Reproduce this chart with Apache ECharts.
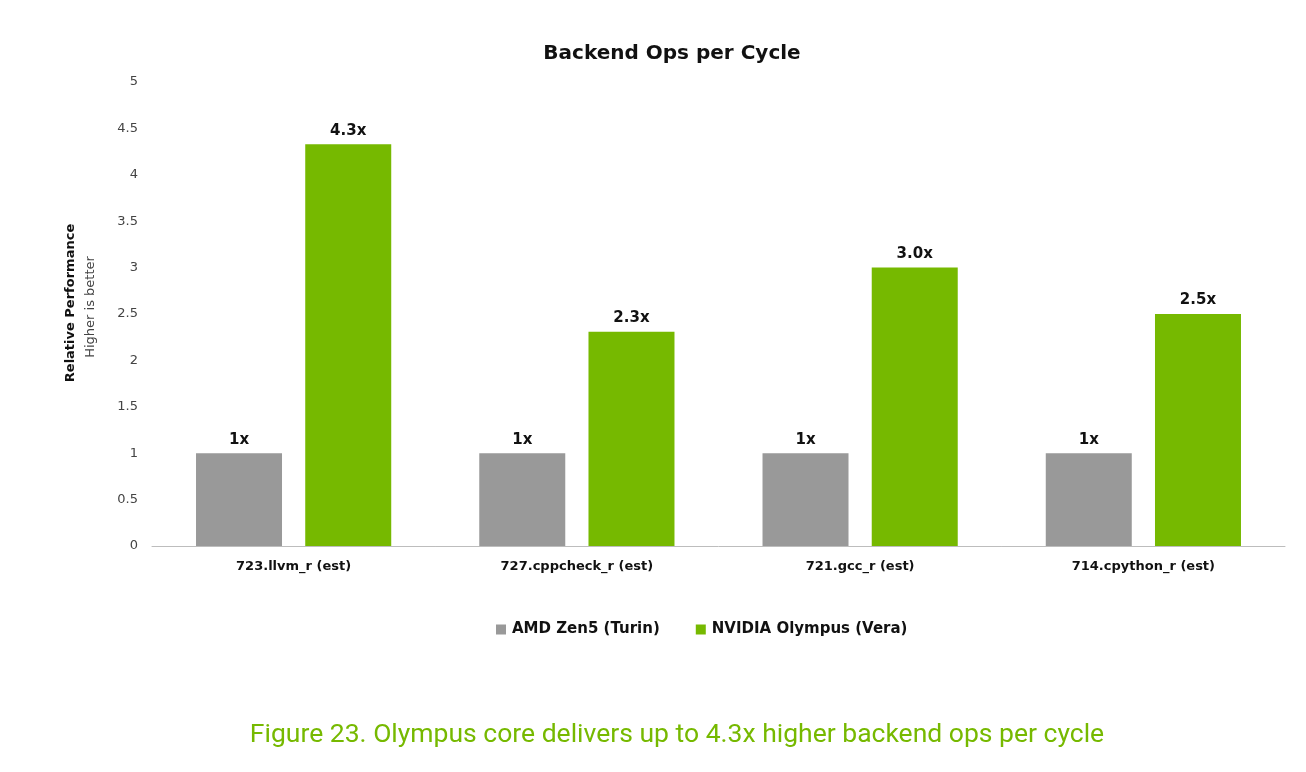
<!DOCTYPE html>
<html>
<head>
<meta charset="utf-8">
<script src="https://cdn.jsdelivr.net/npm/echarts@6/dist/echarts.min.js"></script>
<style>
html,body{margin:0;padding:0;background:#fff;}
#c{width:1306px;height:772px;}
</style>
</head>
<body>
<div id="c"></div>
<script>
const categories = ['723.llvm_r (est)', '727.cppcheck_r (est)', '721.gcc_r (est)', '714.cpython_r (est)'];
const seriesNames = ['AMD Zen5 (Turin)', 'NVIDIA Olympus (Vera)'];
const amdValues = [1, 1, 1, 1];
const nvidiaValues = [4.33, 2.31, 3.0, 2.5];
const amdLabels = ['1x', '1x', '1x', '1x'];
const nvidiaLabels = ['4.3x', '2.3x', '3.0x', '2.5x'];
const yTicks = [0, 0.5, 1, 1.5, 2, 2.5, 3, 3.5, 4, 4.5, 5];
const titleText = 'Backend Ops per Cycle';
const captionText = 'Figure 23. Olympus core delivers up to 4.3x higher backend ops per cycle';
const yNameBold = 'Relative Performance';
const yNameNormal = 'Higher is better';

const FONT = '"DejaVu Sans", sans-serif';
const chart = echarts.init(document.getElementById('c'));
chart.setOption({
  backgroundColor: '#ffffff',
  animation: false,
  title: [{
    text: titleText,
    left: 667, top: 39, textAlign: 'center',
    textStyle: { fontFamily: FONT, fontSize: 20, fontWeight: 'bold', color: '#111' }
  }, {
    text: captionText,
    left: 672, top: 717, textAlign: 'center',
    textStyle: { fontFamily: 'Roboto, sans-serif', fontSize: 26.5, fontWeight: 'normal', color: '#76b900' }
  }],
  legend: {
    data: seriesNames,
    left: 491, top: 617,
    itemWidth: 10, itemHeight: 10, itemGap: 36,
    icon: 'rect',
    textStyle: { fontFamily: FONT, fontSize: 15, fontWeight: 'bold', color: '#111', padding: [0, 0, 0, 1] }
  },
  graphic: [{
    type: 'text', x: 71, y: 303, rotation: Math.PI / 2,
    style: { text: yNameBold, fontFamily: FONT, fontSize: 13, fontWeight: 'bold', fill: '#111',
      textAlign: 'center', textVerticalAlign: 'middle' }
  }, {
    type: 'text', x: 91, y: 307, rotation: Math.PI / 2,
    style: { text: yNameNormal, fontFamily: FONT, fontSize: 13, fill: '#444',
      textAlign: 'center', textVerticalAlign: 'middle' }
  }],
  grid: { left: 152, right: 21, top: 82, bottom: 226 },
  xAxis: {
    type: 'category',
    data: categories,
    axisLine: { lineStyle: { color: '#bdbdbd', width: 1 } },
    axisTick: { show: false },
    axisLabel: { fontFamily: FONT, fontSize: 13, fontWeight: 'bold', color: '#111', margin: 14 }
  },
  yAxis: {
    type: 'value',
    min: 0, max: 5, interval: 0.5,
    splitLine: { show: false },
    axisLine: { show: false },
    axisTick: { show: false },
    axisLabel: {
      fontFamily: FONT, fontSize: 13, color: '#444', margin: 14,
      formatter: v => yTicks.includes(v) ? String(v) : ''
    }
  },
  series: [{
    name: seriesNames[0], type: 'bar', data: amdValues,
    barWidth: 86, barGap: '27%',
    itemStyle: { color: '#999999' },
    label: { show: true, position: 'top', distance: 6, formatter: p => amdLabels[p.dataIndex],
      fontFamily: FONT, fontSize: 15, fontWeight: 'bold', color: '#111' }
  }, {
    name: seriesNames[1], type: 'bar', data: nvidiaValues,
    barWidth: 86, barGap: '27%',
    itemStyle: { color: '#76b900' },
    label: { show: true, position: 'top', distance: 6, formatter: p => nvidiaLabels[p.dataIndex],
      fontFamily: FONT, fontSize: 15, fontWeight: 'bold', color: '#111' }
  }]
});
</script>
</body>
</html>
